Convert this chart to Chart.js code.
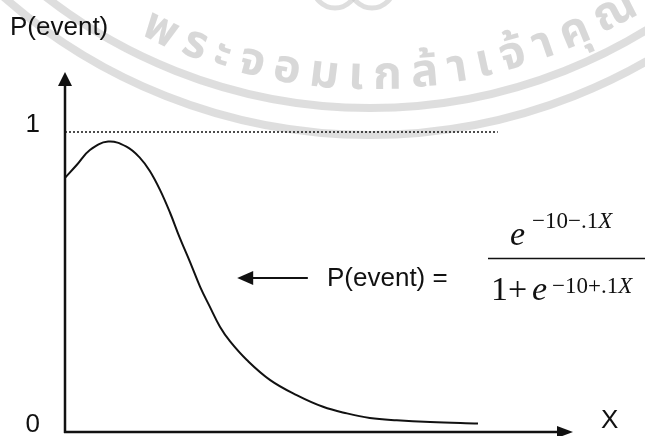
<!DOCTYPE html>
<html>
<head>
<meta charset="utf-8">
<script src="https://cdn.jsdelivr.net/npm/chart.js@4.4.1/dist/chart.umd.min.js"></script>
<style>
  html, body { margin: 0; padding: 0; background: #fff; }
  #wrap { width: 645px; height: 436px; }
</style>
</head>
<body>
<div id="wrap"><canvas id="probChart" width="645" height="436"></canvas></div>
<script>
// Curve: X (0..100 along the axis) and P(event)
const xValues = [0, 2.3, 4.9, 8.5, 12.1, 14.8, 16.7, 18.7, 20.7, 22.6, 24.6, 26.6, 28.5, 30.5, 32.5, 35.8, 40.4, 45.6, 50.8, 55.5, 60.0, 65.3, 71.9, 81.3];
const pValues = [0.847, 0.890, 0.940, 0.968, 0.951, 0.913, 0.870, 0.807, 0.730, 0.647, 0.567, 0.484, 0.418, 0.351, 0.302, 0.240, 0.173, 0.123, 0.084, 0.062, 0.047, 0.039, 0.033, 0.028];

// Dotted reference line at P = 1
const refX = [0, 85.2];
const refY = [1, 1];

// Tick labels on the y axis
const yTickValues = [0, 1];
const yTickLabels = ['0', '1'];

const yAxisTitle = 'P(event)';
const xAxisTitle = 'X';

// Arrow pointing at the curve (data coords)
const pointerFrom = { x: 47.8, y: 0.513 };
const pointerTo = { x: 33.9, y: 0.513 };

// watermark text of the scanned page
const watermarkText = ['พ', 'ร', 'ะ', 'จ', 'อ', 'ม', 'เ', 'ก', 'ล้', 'า', 'เ', 'จ้', 'า', 'คุ', 'ณ'];

const curvePoints = xValues.map((x, i) => ({ x: x, y: pValues[i] }));
const refPoints = refX.map((x, i) => ({ x: x, y: refY[i] }));

function arrowHead(ctx, tipX, tipY, dir, len, half) {
    ctx.beginPath();
    if (dir === 'up') {
        ctx.moveTo(tipX, tipY);
        ctx.lineTo(tipX - half, tipY + len);
        ctx.lineTo(tipX + half, tipY + len);
    } else if (dir === 'right') {
        ctx.moveTo(tipX, tipY);
        ctx.lineTo(tipX - len, tipY - half);
        ctx.lineTo(tipX - len, tipY + half);
    } else {
        ctx.moveTo(tipX, tipY);
        ctx.lineTo(tipX + len, tipY - half);
        ctx.lineTo(tipX + len, tipY + half);
    }
    ctx.closePath();
    ctx.fill();
}

// faint watermark rings + text
const watermarkPlugin = {
    id: 'watermark',
    beforeDraw(chart) {
        const ctx = chart.ctx;
        const cx = 370, cy = -420;
        ctx.save();
        ctx.strokeStyle = 'rgba(200,200,200,0.6)';
        ctx.lineWidth = 8;
        [528, 555].forEach(r => {
            ctx.beginPath();
            ctx.arc(cx, cy, r, 0, Math.PI);
            ctx.stroke();
        });
        // small rings of the logo at the top
        ctx.lineWidth = 5;
        [[335, -14], [372, -14]].forEach(c => {
            ctx.beginPath();
            ctx.arc(c[0], c[1], 22, 0, Math.PI * 2);
            ctx.stroke();
        });

        ctx.fillStyle = 'rgba(195,195,195,0.65)';
        ctx.font = 'bold 46px "Noto Sans Thai", "Loma", "Garuda", "Norasi", sans-serif';
        ctx.textAlign = 'left';
        ctx.textBaseline = 'alphabetic';
        const r = 509;
        let a = 2.04;
        watermarkText.forEach(ch => {
            const w = ctx.measureText(ch).width;
            ctx.save();
            ctx.translate(cx + r * Math.cos(a), cy + r * Math.sin(a));
            ctx.rotate(a - Math.PI / 2);
            ctx.fillText(ch, 0, 0);
            ctx.restore();
            a -= (w + 10) / r;
        });
        ctx.restore();
    }
};

const axesPlugin = {
    id: 'arrowAxes',
    afterDatasetsDraw(chart) {
        const ctx = chart.ctx;
        const xs = chart.scales.x;
        const ys = chart.scales.y;
        const area = chart.chartArea;
        const x0 = xs.getPixelForValue(0);
        const y0 = ys.getPixelForValue(0);

        ctx.save();
        ctx.strokeStyle = '#111';
        ctx.fillStyle = '#111';
        ctx.lineWidth = 2.5;

        // y axis with arrow
        ctx.beginPath();
        ctx.moveTo(x0, y0 + 1);
        ctx.lineTo(x0, area.top + 12);
        ctx.stroke();
        arrowHead(ctx, x0, area.top, 'up', 14, 7);

        // x axis with arrow
        ctx.beginPath();
        ctx.moveTo(x0 - 1, y0);
        ctx.lineTo(area.right - 12, y0);
        ctx.stroke();
        arrowHead(ctx, area.right, y0, 'right', 16, 6);

        // pointer arrow
        const px1 = xs.getPixelForValue(pointerFrom.x);
        const px2 = xs.getPixelForValue(pointerTo.x);
        const py = ys.getPixelForValue(pointerFrom.y);
        ctx.lineWidth = 2;
        ctx.beginPath();
        ctx.moveTo(px1, py);
        ctx.lineTo(px2 + 14, py);
        ctx.stroke();
        arrowHead(ctx, px2, py, 'left', 16, 7);

        // labels
        ctx.font = '26px "Liberation Sans", Arial, sans-serif';
        ctx.textBaseline = 'alphabetic';
        ctx.textAlign = 'right';
        yTickValues.forEach((v, i) => {
            ctx.fillText(yTickLabels[i], 40, ys.getPixelForValue(v));
        });
        ctx.textAlign = 'left';
        ctx.fillText(yAxisTitle, 10, 35);
        ctx.fillText(xAxisTitle, 601, 428);
        ctx.fillText('P(event) =', 327, 286);

        // formula
        const serif = '"Liberation Serif", "Times New Roman", serif';
        let x;
        ctx.font = 'italic 34px ' + serif;
        ctx.fillText('e', 510, 245);
        ctx.font = '23px ' + serif;
        x = 532;
        ctx.fillText('\u221210\u2212.1', x, 228);
        x += ctx.measureText('\u221210\u2212.1').width;
        ctx.font = 'italic 23px ' + serif;
        ctx.fillText('X', x, 228);

        ctx.lineWidth = 1.6;
        ctx.beginPath();
        ctx.moveTo(488, 258.5);
        ctx.lineTo(645, 258.5);
        ctx.stroke();

        ctx.font = '34px ' + serif;
        ctx.fillText('1', 491, 300);
        ctx.fillText('+', 508, 300);
        ctx.font = 'italic 34px ' + serif;
        ctx.fillText('e', 532, 300);
        ctx.font = '23px ' + serif;
        x = 552;
        ctx.fillText('\u221210+.1', x, 293);
        x += ctx.measureText('\u221210+.1').width;
        ctx.font = 'italic 23px ' + serif;
        ctx.fillText('X', x, 293);
        ctx.restore();
    }
};

const ctx = document.getElementById('probChart').getContext('2d');
const probChart = new Chart(ctx, {
    type: 'scatter',
    data: {
        datasets: [
            {
                label: 'P(event)',
                data: curvePoints,
                showLine: true,
                borderColor: '#111',
                borderWidth: 2,
                pointRadius: 0,
                tension: 0.4
            },
            {
                label: 'P = 1',
                data: refPoints,
                showLine: true,
                borderColor: '#222',
                borderWidth: 1.6,
                borderDash: [2, 2],
                pointRadius: 0
            }
        ]
    },
    options: {
        responsive: false,
        animation: false,
        devicePixelRatio: 1,
        layout: { padding: { left: 65, right: 72, top: 72, bottom: 4 } },
        plugins: {
            legend: { display: false },
            tooltip: { enabled: false }
        },
        scales: {
            x: { type: 'linear', min: 0, max: 100, display: false },
            y: { type: 'linear', min: 0, max: 1.2, display: false }
        }
    },
    plugins: [watermarkPlugin, axesPlugin]
});
</script>
</body>
</html>
